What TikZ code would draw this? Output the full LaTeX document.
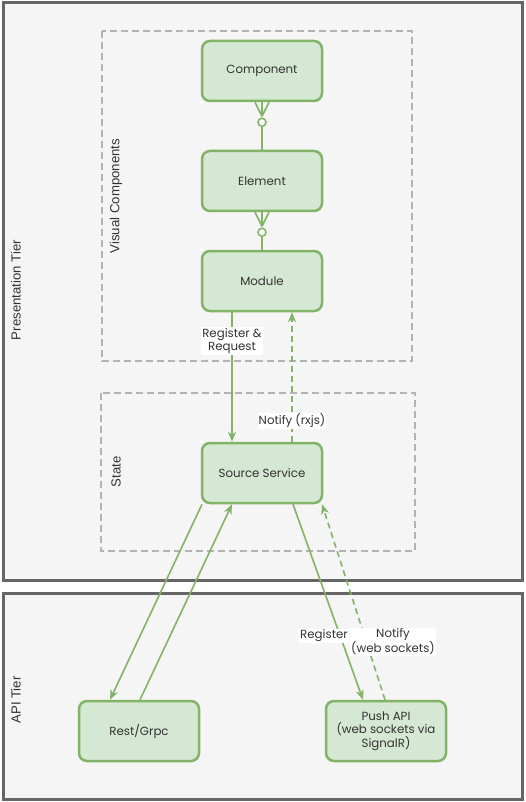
\documentclass[tikz,border=0pt]{standalone}
\usepackage{fontspec}
\setmainfont{Poppins}
\newfontfamily\tierfont{Liberation Sans}
\usetikzlibrary{arrows.meta,calc}
\definecolor{tierfill}{HTML}{F5F5F5}
\definecolor{tierline}{HTML}{666666}
\definecolor{dashline}{HTML}{B3B3B3}
\definecolor{boxfill}{HTML}{D5E8D4}
\definecolor{boxline}{HTML}{82B366}
\definecolor{txt}{HTML}{333333}
\tikzset{
  tier/.style={draw=tierline, fill=tierfill, line width=3pt},
  group/.style={draw=dashline, line width=2pt, dash pattern=on 7pt off 4pt},
  entity/.style={draw=boxline, fill=boxfill, line width=2.5pt, rounded corners=8pt,
    minimum width=120pt, minimum height=60pt, inner sep=0pt, align=center,
    font=\fontsize{11.8}{13.5}\selectfont, text=txt},
  conn/.style={draw=boxline, line width=1.6pt, -{Stealth[length=10pt,width=8pt,inset=3pt]}},
  notify/.style={conn, dash pattern=on 6pt off 4pt},
  edgelabel/.style={fill=white, inner sep=1pt, align=center, text=txt,
    font=\fontsize{11.8}{13.5}\selectfont},
  tierlabel/.style={rotate=90, text=txt, font=\tierfont\fontsize{13.2}{15}\selectfont},
}
\begin{document}
\begin{tikzpicture}[x=1pt, y=-1pt]
  \useasboundingbox (0,0) rectangle (526,802);

  % tiers
  \draw[tier] (3,3) rectangle (522,580);
  \draw[tier] (3,593) rectangle (522,799);
  \node[tierlabel] (presLabel) at (16,290) {Presentation Tier};
  \node[tierlabel] (apiLabel) at (16,700) {API Tier};

  % groups
  \draw[group] (102,31) rectangle (412,361);
  \draw[group] (101,393) rectangle (415,551);
  \node[tierlabel] (visLabel) at (116,196) {Visual Components};
  \node[tierlabel] (stateLabel) at (116,472) {State};

  % entities
  \node[entity] (component) at (262,71)  {Component};
  \node[entity] (element)   at (262,181) {Element};
  \node[entity] (module)    at (262,281) {Module};
  \node[entity] (source)    at (262,473) {Source Service};
  \node[entity] (rest)      at (139,731) {Rest/Grpc};
  \node[entity] (push)      at (386,731) {Push API\\(web sockets via\\SignalR)};

  % zero or many links
  \foreach \from/\to in {component/element, element/module} {
    \coordinate (tip) at ($(\from.south)+(0,14)$);
    \draw[draw=boxline, line width=1.6pt] ($(\from.south)+(0,24)$) -- (\to.north);
    \draw[draw=boxline, line width=1.6pt] ($(\from.south)+(-7,0)$) -- (tip)
      ($(\from.south)+(7,0)$) -- (tip) (\from.south) -- (tip);
    \draw[draw=boxline, fill=white, line width=1.6pt] ($(\from.south)+(0,20)$) circle (4);
  }

  % module <-> source service
  \draw[conn] ($(module.south)+(-30,0)$) -- ($(source.north)+(-30,0)$);
  \node[edgelabel] (regReq) at (232,341) {Register \&\\Request};
  \draw[notify] ($(source.north)+(30,0)$) -- ($(module.south)+(30,0)$);
  \node[edgelabel] (notRx) at (292,421) {Notify (rxjs)};

  % source service <-> api tier
  \draw[conn] ($(source.south)+(-60,0)$) -- ($(rest.north)+(-29,0)$);
  \draw[conn] ($(rest.north)+(1,0)$) -- ($(source.south)+(-30,0)$);
  \draw[conn] ($(source.south)+(31,0)$) -- ($(push.north)+(-23,0)$);
  \draw[notify] ($(push.north)+(-1,0)$) -- ($(source.south)+(60,0)$);
  \node[edgelabel] (reg) at (324,636) {Register};
  \node[edgelabel] (notWs) at (393,642) {Notify\\(web sockets)};
\end{tikzpicture}
\end{document}
